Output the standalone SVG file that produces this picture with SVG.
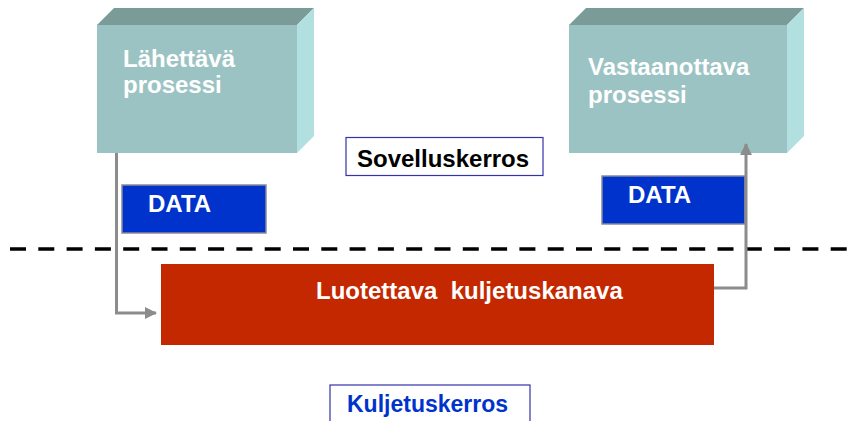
<svg xmlns="http://www.w3.org/2000/svg" width="853" height="421" viewBox="0 0 853 421">
<defs>
<style>
.front{fill:#9cc3c3;}
.top{fill:#7a9b97;}
.side{fill:#b2e0e0;}
.t{font-family:"Liberation Sans",Arial,sans-serif;font-weight:bold;font-size:24px;}
.w{fill:#ffffff;}
.data{fill:#0033cc;stroke:#8a8a9a;stroke-width:1.5;}
.lbl{fill:#ffffff;stroke:#3333aa;stroke-width:1.2;}
.conn{fill:none;stroke:#8c8c8c;stroke-width:3;}
</style>
<marker id="ah" viewBox="0 0 12 12" refX="11" refY="6" markerWidth="12" markerHeight="12" markerUnits="userSpaceOnUse" orient="auto">
<path d="M0,0 L12,6 L0,12 Z" fill="#8c8c8c"/>
</marker>
</defs>
<rect width="853" height="421" fill="#ffffff"/>
<g id="sender">
<polygon class="top" points="97,25 114,8 314,8 297,25"/>
<polygon class="side" points="297,25 314,8 314,136 297,153"/>
<rect class="front" x="97" y="25" width="200" height="128"/>
<text class="t w" x="123" y="67">Lähettävä</text>
<text class="t w" x="123" y="93">prosessi</text>
</g>
<g id="receiver">
<polygon class="top" points="569,25 586,8 804,8 787,25"/>
<polygon class="side" points="787,25 804,8 804,136 787,153"/>
<rect class="front" x="569" y="25" width="218" height="128"/>
<text class="t w" x="588" y="75">Vastaanottava</text>
<text class="t w" x="588" y="103">prosessi</text>
</g>
<g id="sovelluskerros">
<rect class="lbl" x="346" y="137.5" width="197" height="38"/>
<text class="t" x="357" y="167" fill="#000000">Sovelluskerros</text>
</g>
<g id="data-left">
<rect class="data" x="122" y="185" width="144" height="48"/>
<text class="t w" x="148" y="212">DATA</text>
</g>
<g id="data-right">
<rect class="data" x="602" y="176" width="143" height="48"/>
<text class="t w" x="628" y="203">DATA</text>
</g>
<g id="layer-boundary">
<line x1="10" y1="249" x2="853" y2="249" stroke="#000000" stroke-width="3.5" stroke-dasharray="16 12.3"/>
</g>
<g id="channel">
<rect x="161" y="264" width="553" height="81" fill="#c42800"/>
<text class="t w" x="316" y="299" xml:space="preserve">Luotettava  kuljetuskanava</text>
</g>
<g id="kuljetuskerros">
<rect class="lbl" x="330" y="385" width="200" height="40"/>
<text class="t" x="347" y="412" fill="#0033cc" style="font-size:23px">Kuljetuskerros</text>
</g>
<g id="connectors">
<polyline class="conn" points="116.5,153 116.5,313 156,313" marker-end="url(#ah)"/>
<polyline class="conn" points="714,288 746,288 746,144" marker-end="url(#ah)"/>
</g>
</svg>
